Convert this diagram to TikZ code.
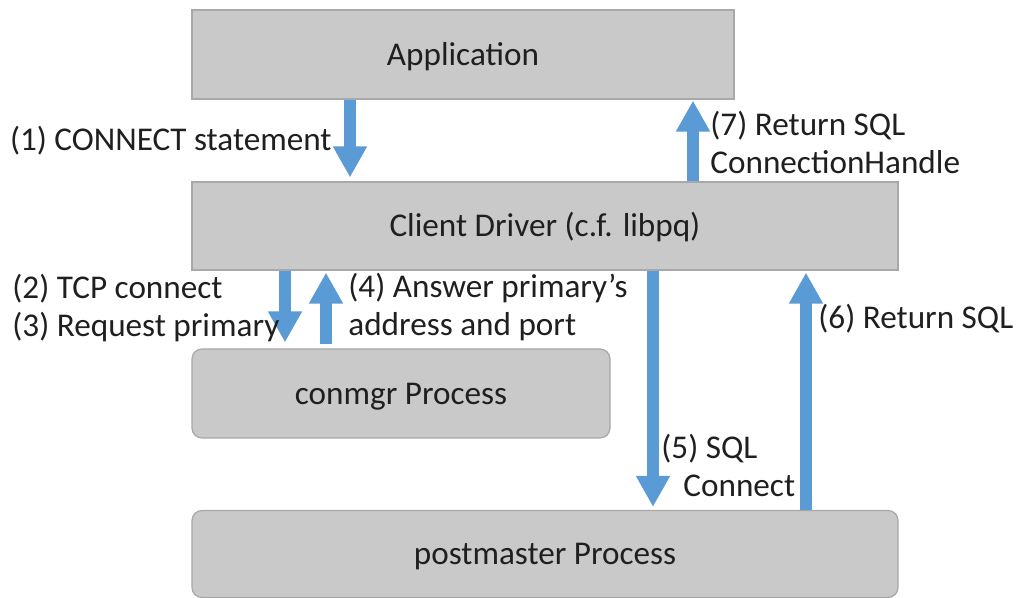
\documentclass[tikz,border=0pt]{standalone}
\usepackage{fontspec}
\setmainfont{Carlito}
\usepackage{tikz}
\usetikzlibrary{arrows.meta}
\definecolor{flowblue}{HTML}{5B9BD5}
\definecolor{boxgray}{HTML}{C9C9C9}
\definecolor{boxline}{HTML}{A8A8A8}

\begin{document}
\begin{tikzpicture}[x=0.5pt,y=-0.5pt,
    every node/.style={font=\fontsize{16.6}{19}\selectfont,text=black!88},
    stage/.style={draw=boxline,fill=boxgray,line width=0.6pt,inner sep=0,text height=12.5pt,text depth=1.5pt},
    proc/.style={stage,rounded corners=5pt},
    flow/.style={draw=flowblue,line width=6pt,-{Triangle[width=16pt,length=15.5pt]}},
    note/.style={align=left,inner sep=0}]
  \useasboundingbox (0,0) rectangle (1018,598);
  % boxes
  \node[stage,minimum width=271pt,minimum height=44.5pt] (app) at (463,54.5) {Application};
  \node[stage,minimum width=353pt,minimum height=44pt] (drv) at (545,226) {Client Driver (c.f. libpq)};
  \node[proc,minimum width=209pt,minimum height=44.5pt] (cm) at (401,393.5) {conmgr Process};
  \node[proc,minimum width=353pt,minimum height=43.5pt] (pm) at (545,554) {postmaster Process};
  % arrow columns
  \coordinate (c1) at (350,0);
  \coordinate (c7) at (693,0);
  \coordinate (c2) at (285,0);
  \coordinate (c4) at (326,0);
  \coordinate (c5) at (653,0);
  \coordinate (c6) at (806,0);
  \draw[flow] (c1 |- app.south) -- ([yshift=2pt]c1 |- drv.north);
  \draw[flow] (c7 |- drv.north) -- ([yshift=-0.5pt]c7 |- app.south);
  \draw[flow] (c2 |- drv.south) -- ([yshift=3pt]c2 |- cm.north);
  \draw[flow] ([yshift=2pt]c4 |- cm.north) -- ([yshift=-1pt]c4 |- drv.south);
  \draw[flow] (c5 |- drv.south) -- ([yshift=1.5pt]c5 |- pm.north);
  \draw[flow] (c6 |- pm.north) -- ([yshift=-1pt]c6 |- drv.south);
  % labels
  \node[note,anchor=east] (l1) at (332,141) {(1) CONNECT statement};
  \node[note,anchor=west] (l7) at (710,142) {(7) Return SQL\\ConnectionHandle};
  \node[note,anchor=west] (l2) at (12,308) {(2) TCP connect\\(3) Request primary};
  \node[note,anchor=west] (l4) at (348,307) {(4) Answer primary’s\\address and port};
  \node[note,anchor=west] (l5) at (661,465) {(5) SQL\\\hspace*{11pt}Connect};
  \node[note,anchor=west] (l6) at (818,319) {(6) Return SQL};
\end{tikzpicture}
\end{document}
